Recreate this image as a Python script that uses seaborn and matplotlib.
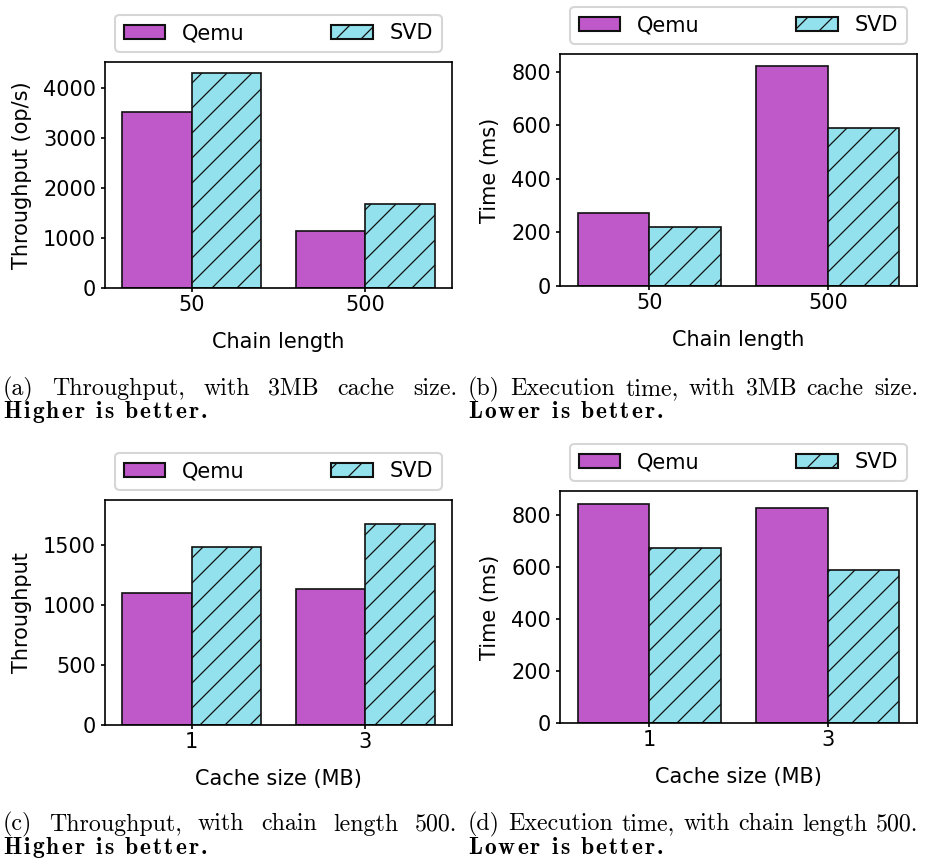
import numpy as np
import pandas as pd
import seaborn as sns
import matplotlib.pyplot as plt
import matplotlib.patches as mpatches
from matplotlib.ticker import MultipleLocator

# data
systems = ["Qemu", "SVD"]
chain_lengths = ["50", "500"]
cache_sizes = ["1", "3"]

qemu_tput_chain = [3530, 1138]
svd_tput_chain = [4300, 1677]
qemu_time_chain = [271, 824]
svd_time_chain = [221, 589]

qemu_tput_cache = [1102, 1138]
svd_tput_cache = [1482, 1677]
qemu_time_cache = [840, 824]
svd_time_cache = [672, 589]

captions = [
    "(a) Throughput, with 3MB cache size.",
    "(b) Execution time, with 3MB cache size.",
    "(c) Throughput, with chain length 500.",
    "(d) Execution time, with chain length 500.",
]
verdicts = ["Higher is better.", "Lower is better.", "Higher is better.", "Lower is better."]

colors = ["#BF58C9", "#93E1EC"]
hatches = ["", "//"]
edge = "#111111"

plt.rcParams["font.family"] = "DejaVu Sans"
plt.rcParams["font.size"] = 10
plt.rcParams["hatch.linewidth"] = 0.6
plt.rcParams["xtick.major.size"] = 1.8
plt.rcParams["ytick.major.size"] = 1.8
plt.rcParams["xtick.major.pad"] = 1.5
plt.rcParams["ytick.major.pad"] = 2.5

W, H, DPI = 925, 865, 150
fig = plt.figure(figsize=(W / DPI, H / DPI), dpi=DPI)


def px_axes(x0, y0, x1, y1):
    # pixel box (top-left origin) -> figure fraction axes
    return fig.add_axes([x0 / W, 1 - y1 / H, (x1 - x0) / W, (y1 - y0) / H])


panels = [
    (px_axes(105, 62, 452, 288), chain_lengths, qemu_tput_chain, svd_tput_chain,
     "Chain length", "Throughput (op/s)", 4520, 1000),
    (px_axes(560, 54, 917, 286), chain_lengths, qemu_time_chain, svd_time_chain,
     "Chain length", "Time (ms)", 867, 200),
    (px_axes(105, 500, 452, 725), cache_sizes, qemu_tput_cache, svd_tput_cache,
     "Cache size (MB)", "Throughput", 1878, 500),
    (px_axes(560, 491, 917, 723), cache_sizes, qemu_time_cache, svd_time_cache,
     "Cache size (MB)", "Time (ms)", 891, 200),
]

for ax, cats, qemu, svd, xlabel, ylabel, ytop, ystep in panels:
    df = pd.DataFrame({
        "x": cats + cats,
        "value": qemu + svd,
        "system": [systems[0]] * len(cats) + [systems[1]] * len(cats),
    })
    sns.barplot(data=df, x="x", y="value", hue="system", order=cats,
                hue_order=systems, palette=colors, saturation=1,
                edgecolor=edge, linewidth=0.8, errorbar=None,
                legend=False, ax=ax)
    for cont, h in zip(ax.containers, hatches):
        for bar in cont:
            bar.set_hatch(h)
    ax.set_ylim(0, ytop)
    ax.yaxis.set_major_locator(MultipleLocator(ystep))
    ax.set_xlabel(xlabel, labelpad=8)
    ax.set_ylabel(ylabel, labelpad=5.5)
    handles = [mpatches.Patch(facecolor=c, edgecolor=edge, hatch=h, label=s)
               for c, h, s in zip(colors, hatches, systems)]
    ax.legend(handles=handles, loc="lower left", bbox_to_anchor=(0, 1, 1, 0.2),
              mode="expand", ncol=2, borderaxespad=0.5)


def spread(pieces, x0, x1, y, **kw):
    # place pieces left to right so that they fill x0..x1 exactly
    texts = [fig.text(x0 / W, 1 - y / H, p, va="baseline", ha="left", **kw) for p in pieces]
    r = fig.canvas.get_renderer()
    widths = [t.get_window_extent(r).width for t in texts]
    gap = (x1 - x0 - sum(widths)) / (len(pieces) - 1)
    x = x0
    for t, w in zip(texts, widths):
        t.set_x(x / W)
        x += w + gap


def tracked(line, x0, x1, y, space, **kw):
    # bold line: letters spaced out a little, like an extended face
    pieces = [c for c in line if c != " "]
    texts = [fig.text(x0 / W, 1 - y / H, c, va="baseline", ha="left", **kw) for c in pieces]
    r = fig.canvas.get_renderer()
    widths = [t.get_window_extent(r).width for t in texts]
    n_sp = line.count(" ")
    extra = (x1 - x0 - sum(widths) - n_sp * space) / (len(pieces) - 1)
    x = x0
    i = 0
    for ch in line:
        if ch == " ":
            x += space
            continue
        texts[i].set_x(x / W)
        x += widths[i] + extra
        i += 1


cap_cols = [(3, 457), (468, 918), (3, 457), (468, 918)]
cap_rows = [395, 395, 830.5, 830.5]
verdict_ends = [207, 663, 207, 663]
for cap, verdict, (cx0, cx1), cy, vend in zip(captions, verdicts, cap_cols, cap_rows, verdict_ends):
    spread(cap.split(" "), cx0, cx1, cy, family="cmr10", fontsize=11.5)
    tracked(verdict, cx0, vend, cy + 23, 9, family="cmb10", fontsize=11.3)

fig.savefig("out.png", dpi=DPI)
